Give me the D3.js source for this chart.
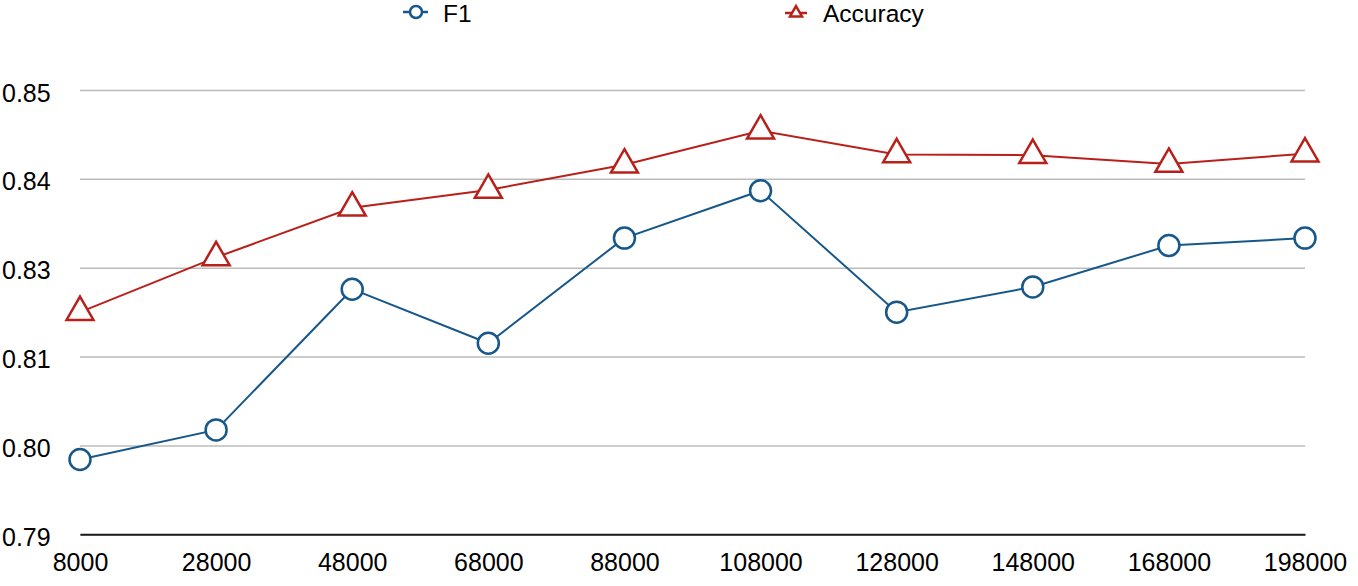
<!DOCTYPE html>
<html>
<head>
<meta charset="utf-8">
<script src="https://cdn.jsdelivr.net/npm/d3@7"></script>
<style>
  body { margin: 0; background: #fff; }
  svg { display: block; font-family: "Liberation Sans", Arial, Helvetica, sans-serif; }
</style>
</head>
<body>
<div id="chart"></div>
<script>
"use strict";

var categories = ["8000", "28000", "48000", "68000", "88000", "108000", "128000", "148000", "168000", "198000"];
var f1Values = [0.8001, 0.8041, 0.8231, 0.8158, 0.8300, 0.8364, 0.8200, 0.8234, 0.8290, 0.8300];
var accuracyValues = [0.8200, 0.8274, 0.8341, 0.8365, 0.8399, 0.8445, 0.8413, 0.8412, 0.8400, 0.8414];
var yTicks = [0.79, 0.802, 0.814, 0.826, 0.838, 0.85];

var chartWidth = 1358, chartHeight = 586;
var plotLeft = 80, plotRight = 1305, plotTop = 90, plotBottom = 534.3;
var blue = "#17578a", red = "#b8201a";

var svg = d3.select("#chart").append("svg")
    .attr("width", chartWidth)
    .attr("height", chartHeight);

var x = d3.scalePoint().domain(categories).range([plotLeft, plotRight]);
var y = d3.scaleLinear().domain([0.79, 0.85]).range([plotBottom, plotTop]);

// gridlines + y labels
var yAxis = svg.append("g")
    .attr("transform", "translate(" + plotLeft + ",0)")
    .call(d3.axisLeft(y)
        .tickValues(yTicks)
        .tickFormat(d3.format(".2f"))
        .tickSize(-(plotRight - plotLeft)));
yAxis.select(".domain").remove();
yAxis.selectAll(".tick line")
    .attr("stroke", "#bbbbbb")
    .attr("stroke-width", 1.5);
yAxis.selectAll(".tick text")
    .attr("x", -78)
    .attr("dy", "0.44em")
    .attr("text-anchor", "start")
    .attr("fill", "#000")
    .style("font-size", "25px");

// x axis
var xAxis = svg.append("g")
    .attr("transform", "translate(0," + plotBottom + ")")
    .call(d3.axisBottom(x).tickSize(0).tickPadding(19));
xAxis.select(".domain")
    .attr("stroke", "#1a1a1a")
    .attr("stroke-width", 2);
xAxis.selectAll(".tick text")
    .attr("fill", "#000")
    .style("font-size", "25px");

var line = d3.line()
    .x(function (d, i) { return x(categories[i]); })
    .y(function (d) { return y(d); });

var triangle = d3.symbol().type(d3.symbolTriangle).size(315);
var smallTriangle = d3.symbol().type(d3.symbolTriangle).size(62);

// accuracy series
svg.append("path")
    .datum(accuracyValues)
    .attr("fill", "none")
    .attr("stroke", red)
    .attr("stroke-width", 2)
    .attr("d", line);
svg.append("g").selectAll("path")
    .data(accuracyValues)
    .enter().append("path")
    .attr("d", triangle)
    .attr("transform", function (d, i) { return "translate(" + x(categories[i]) + "," + y(d) + ")"; })
    .attr("fill", "#fff")
    .attr("stroke", red)
    .attr("stroke-width", 2.5);

// F1 series
svg.append("path")
    .datum(f1Values)
    .attr("fill", "none")
    .attr("stroke", blue)
    .attr("stroke-width", 2)
    .attr("d", line);
svg.append("g").selectAll("circle")
    .data(f1Values)
    .enter().append("circle")
    .attr("cx", function (d, i) { return x(categories[i]); })
    .attr("cy", function (d) { return y(d); })
    .attr("r", 10.5)
    .attr("fill", "#fff")
    .attr("stroke", blue)
    .attr("stroke-width", 2.5);

// legend
var legend = svg.append("g");
var f1Item = legend.append("g").attr("transform", "translate(416,12)");
f1Item.append("line").attr("x1", -13).attr("x2", 12)
    .attr("stroke", blue).attr("stroke-width", 2.5);
f1Item.append("circle").attr("r", 6)
    .attr("fill", "#fff").attr("stroke", blue).attr("stroke-width", 2.5);
f1Item.append("text").attr("x", 27).attr("y", 10.3)
    .style("font-size", "24.5px").text("F1");

var accItem = legend.append("g").attr("transform", "translate(796,13)");
accItem.append("line").attr("x1", -11).attr("x2", 11)
    .attr("stroke", red).attr("stroke-width", 2.5);
accItem.append("path").attr("d", smallTriangle)
    .attr("fill", "#fff").attr("stroke", red).attr("stroke-width", 2.5);
accItem.append("text").attr("x", 27).attr("y", 9.3)
    .style("font-size", "24.5px").text("Accuracy");
</script>
</body>
</html>
